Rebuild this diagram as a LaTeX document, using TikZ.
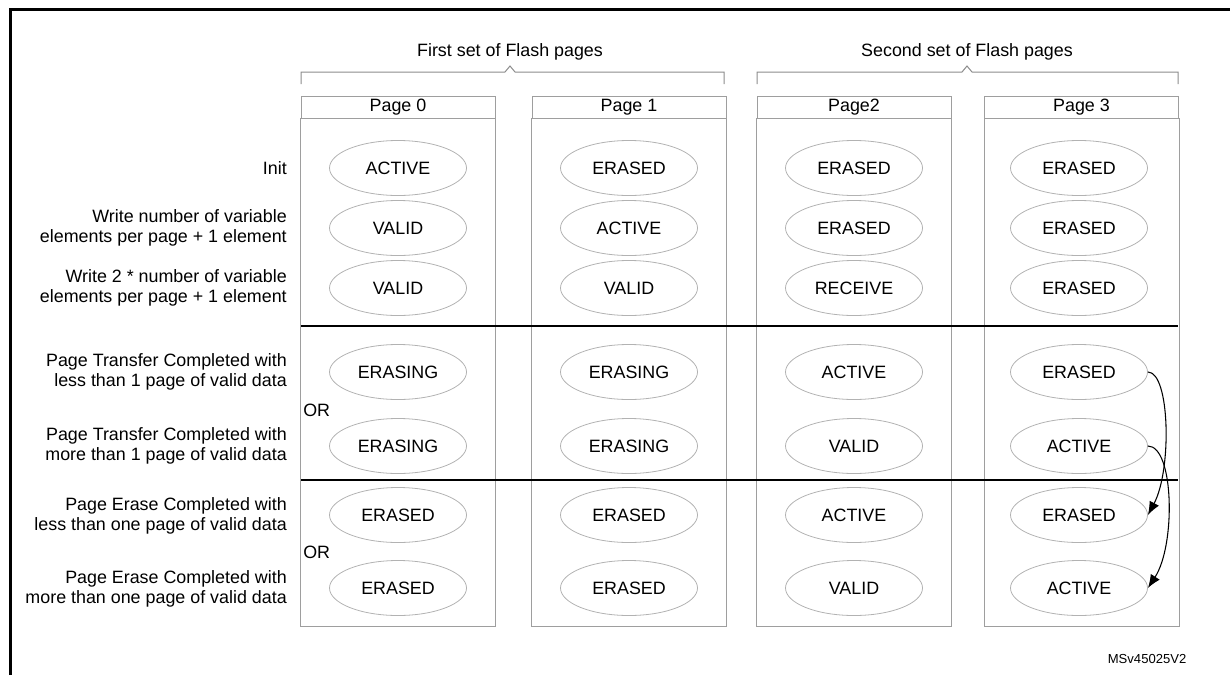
\documentclass[tikz,border=0pt]{standalone}
\usepackage{fontspec}
\setmainfont{Liberation Sans}
\usetikzlibrary{shapes.geometric,arrows.meta}

\begin{document}
\begin{tikzpicture}[x=0.75pt,y=-0.75pt,
  every node/.style={font=\fontsize{13.4}{15.5}\selectfont, text=black},
  state/.style={ellipse, draw=black!30, line width=0.6pt,
    minimum width=102.75pt, minimum height=41.25pt, inner sep=0pt},
  colhead/.style={draw=black!38, line width=0.75pt, minimum width=145.5pt,
    minimum height=16.5pt, inner sep=0pt},
  colbody/.style={draw=black!38, line width=0.75pt},
  divider/.style={line width=2pt, black},
  bracket/.style={draw=black!45, line width=0.75pt},
  rowlabel/.style={anchor=east, align=right, inner sep=0pt},
  move/.style={-{Latex[length=10pt,width=8pt]}, line width=0.8pt},
  frameline/.style={line width=2.25pt, black}
]
\useasboundingbox (0,0) rectangle (1230,675);

% outer frame (left and top edges)
\draw[frameline] (10,675) -- (10,9) -- (1230,9);

% brackets grouping the pages
\draw[bracket] (301,84) -- (301,72) -- (505,72) -- (510,66) -- (515,72) -- (724,72) -- (724,84);
\draw[bracket] (757,84) -- (757,72) -- (962,72) -- (967,66) -- (972,72) -- (1178,72) -- (1178,84);
\node (set1) at (510,52) {First set of Flash pages};
\node (set2) at (967,52) {Second set of Flash pages};

% page columns
\node[colhead] (h0) at (398,107) {Page 0};
\node[colhead] (h1) at (629,107) {Page 1};
\node[colhead] (h2) at (854,107) {Page2};
\node[colhead] (h3) at (1081.5,107) {Page 3};
\foreach \c in {0,1,2,3} {
  \draw[colbody] (h\c.south west) rectangle ([yshift=-508*0.75pt]h\c.south east);
}

% phase separators
\draw[divider] (301,326) -- (1178,326);
\draw[divider] (301,480) -- (1178,480);

% row labels
\node[rowlabel] (r1) at (287,168) {Init};
\node[rowlabel] (r2) at (287,228) {Write number of variable\\elements per page + 1 element};
\node[rowlabel] (r3) at (287,288) {Write 2 * number of variable\\elements per page + 1 element};
\node[rowlabel] (r4) at (287,372) {Page Transfer Completed with\\less than 1 page of valid data};
\node[rowlabel] (r5) at (287,446) {Page Transfer Completed with\\more than 1 page of valid data};
\node[rowlabel] (r6) at (287,516) {Page Erase Completed with\\less than one page of valid data};
\node[rowlabel] (r7) at (287,589) {Page Erase Completed with\\more than one page of valid data};
\node[anchor=west, inner sep=0pt] (or1) at (303,410) {OR};
\node[anchor=west, inner sep=0pt] (or2) at (303,552) {OR};

% page states
\foreach \r/\y/\a/\b/\cc/\d in {
  1/168/ACTIVE/ERASED/ERASED/ERASED,
  2/228/VALID/ACTIVE/ERASED/ERASED,
  3/288/VALID/VALID/RECEIVE/ERASED,
  4/372/ERASING/ERASING/ACTIVE/ERASED,
  5/446/ERASING/ERASING/VALID/ACTIVE,
  6/515/ERASED/ERASED/ACTIVE/ERASED,
  7/588/ERASED/ERASED/VALID/ACTIVE} {
  \node[state] (s\r1) at (398,\y) {\a};
  \node[state] (s\r2) at (629,\y) {\b};
  \node[state] (s\r3) at (854,\y) {\cc};
  \node[state] (s\r4) at (1079,\y) {\d};
}

% page 3 transitions
\draw[move] (s44.east) .. controls (1170,372) and (1172,470) .. (s64.east);
\draw[move] (s54.east) .. controls (1174,446) and (1176,545) .. (s74.east);

% reference tag
\node[anchor=east, font=\fontsize{9.8}{11}\selectfont] (tag) at (1191,659) {MSv45025V2};
\end{tikzpicture}
\end{document}
